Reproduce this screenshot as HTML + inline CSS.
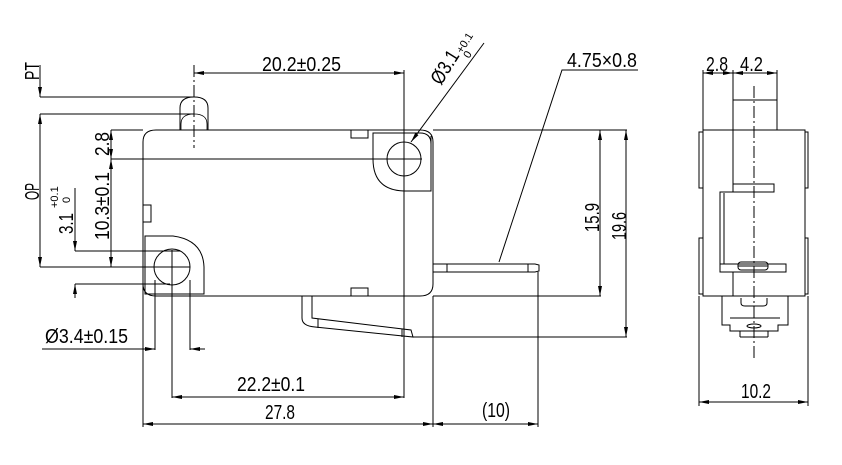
<!DOCTYPE html>
<html><head><meta charset="utf-8"><style>
html,body{margin:0;padding:0;background:#fff}
svg{display:block}
text{font-family:"Liberation Sans",sans-serif;fill:#000}
</style></head><body>
<svg width="842" height="465" viewBox="0 0 842 465" xmlns="http://www.w3.org/2000/svg">
<defs>
<marker id="a" viewBox="0 0 10 4" refX="10" refY="2" markerWidth="10" markerHeight="4" orient="auto-start-reverse" markerUnits="userSpaceOnUse"><path d="M0,0 L10,2 L0,4z" fill="#000"/></marker>
</defs>
<g stroke="#000" stroke-width="1" fill="none">
<path d="M143,296 L143,142 Q143,130 156,130 L420,130 Q433,130 433,142 L433,284 Q433,296 420,296 L156,296 Q143,296 143,284 Z"/>
<path d="M180,130 L180,108 Q180,97 194,97 Q208,97 208,108 L208,130"/>
<path d="M181,130 L181,124 Q181,114 194,114 Q207,114 207,124 L207,130" stroke-width="0.8"/>
<line x1="194" y1="65" x2="194" y2="148" stroke-dasharray="12,3,2,3"/>
<path d="M431,136 L431,191 L404,191 Q373,190 373,159 L373,133 L420,133 Q431,133 431,144"/>
<circle cx="404" cy="159" r="17"/>
<path d="M145,294 L145,236 L173,236 Q203,240 204,267 L204,294 Z"/>
<circle cx="172" cy="267" r="18"/>
<rect x="143" y="205" width="8" height="17"/>
<rect x="351" y="130" width="17" height="8"/>
<rect x="351" y="288" width="17" height="8"/>
<path d="M302,296 L302,318 Q302,326 315,327 L413,337 L411,330 L312,318 L312,296"/>
<line x1="318" y1="319" x2="318" y2="328"/><line x1="402" y1="329" x2="402" y2="337"/>
<path d="M433,264 L535,264 L539,265 L539,271 L535,272 L433,272"/>
<line x1="447" y1="264" x2="447" y2="272"/><line x1="528" y1="264" x2="528" y2="272"/>
<line x1="40" y1="97" x2="194" y2="97"/>
<line x1="40" y1="114" x2="194" y2="114"/>
<line x1="111" y1="159" x2="422" y2="159"/>
<line x1="40" y1="267" x2="190" y2="267"/>
<line x1="75" y1="251" x2="180" y2="251"/>
<line x1="75" y1="284" x2="170" y2="284"/>
<line x1="433" y1="130" x2="627" y2="130"/>
<line x1="433" y1="296" x2="601" y2="296"/>
<line x1="413" y1="337" x2="627" y2="337"/>
<line x1="404" y1="70" x2="404" y2="398"/>
<line x1="143" y1="296" x2="143" y2="427"/>
<line x1="155" y1="280" x2="155" y2="350"/>
<line x1="190" y1="280" x2="190" y2="350"/>
<line x1="172" y1="250" x2="172" y2="398"/>
<line x1="433" y1="296" x2="433" y2="427"/>
<line x1="538" y1="272" x2="538" y2="427"/>
<line x1="194" y1="73" x2="404" y2="73" marker-start="url(#a)" marker-end="url(#a)"/>
<line x1="40" y1="65" x2="40" y2="97" marker-end="url(#a)"/>
<line x1="40" y1="114" x2="40" y2="267" marker-start="url(#a)" marker-end="url(#a)"/>
<line x1="111" y1="130" x2="111" y2="159" marker-start="url(#a)" marker-end="url(#a)"/>
<line x1="111" y1="159" x2="111" y2="267" marker-start="url(#a)" marker-end="url(#a)"/>
<line x1="111" y1="130" x2="143" y2="130"/>
<line x1="75" y1="188" x2="75" y2="251" marker-end="url(#a)"/>
<line x1="75" y1="298" x2="75" y2="284" marker-end="url(#a)"/>
<line x1="600" y1="130" x2="600" y2="296" marker-start="url(#a)" marker-end="url(#a)"/>
<line x1="626" y1="130" x2="626" y2="337" marker-start="url(#a)" marker-end="url(#a)"/>
<line x1="42" y1="349" x2="155" y2="349" marker-end="url(#a)"/>
<line x1="205" y1="349" x2="190" y2="349" marker-end="url(#a)"/>
<line x1="172" y1="397" x2="404" y2="397" marker-start="url(#a)" marker-end="url(#a)"/>
<line x1="143" y1="424" x2="433" y2="424" marker-start="url(#a)" marker-end="url(#a)"/>
<line x1="433" y1="424" x2="538" y2="424" marker-start="url(#a)" marker-end="url(#a)"/>
<line x1="411" y1="142" x2="484" y2="43" marker-start="url(#a)"/>
<polyline points="499,262 562,70 638,70"/>
<rect x="703" y="130" width="102" height="166"/>
<rect x="699" y="132" width="4" height="56"/><rect x="699" y="238" width="4" height="56"/>
<rect x="805" y="132" width="3" height="56"/><rect x="805" y="238" width="3" height="56"/>
<rect x="733" y="100" width="44" height="30"/>
<line x1="733" y1="130" x2="733" y2="184"/>
<rect x="733" y="184" width="41" height="8"/>
<path d="M733,192 L720,192 L720,264"/>
<line x1="724" y1="193" x2="724" y2="264"/>
<rect x="720" y="264" width="66" height="8"/>
<rect x="738" y="262" width="30" height="8" rx="3"/>
<line x1="738" y1="266" x2="768" y2="266"/>
<line x1="733" y1="272" x2="733" y2="296"/>
<path d="M722,296 L722,325 L730,325 L730,331 L778,331 L778,325 L788,325 L788,296"/>
<path d="M741,298 L741,303 Q741,306 745,306 L763,306 Q767,306 767,303 L767,298"/>
<line x1="730" y1="318" x2="780" y2="318"/>
<ellipse cx="754" cy="326" rx="7" ry="2"/>
<line x1="740" y1="331" x2="740" y2="337"/><line x1="768" y1="331" x2="768" y2="337"/>
<line x1="740" y1="337" x2="768" y2="337"/>
<line x1="754" y1="86" x2="754" y2="360" stroke-dasharray="12,3,2,3"/>
<line x1="703" y1="70" x2="703" y2="130"/><line x1="733" y1="70" x2="733" y2="100"/><line x1="777" y1="70" x2="777" y2="100"/>
<line x1="703" y1="73" x2="733" y2="73" marker-start="url(#a)" marker-end="url(#a)"/>
<line x1="733" y1="73" x2="777" y2="73" marker-start="url(#a)" marker-end="url(#a)"/>
<line x1="699" y1="296" x2="699" y2="406"/><line x1="808" y1="296" x2="808" y2="406"/>
<line x1="699" y1="402" x2="808" y2="402" marker-start="url(#a)" marker-end="url(#a)"/>
</g>
<g font-size="20">
<text x="262" y="71" textLength="79" lengthAdjust="spacingAndGlyphs">20.2±0.25</text>
<text x="567" y="67" textLength="70" lengthAdjust="spacingAndGlyphs">4.75×0.8</text>
<text x="482" y="417" textLength="28" lengthAdjust="spacingAndGlyphs">(10)</text>
<text x="237" y="391" textLength="68" lengthAdjust="spacingAndGlyphs">22.2±0.1</text>
<text x="265" y="419" textLength="30" lengthAdjust="spacingAndGlyphs">27.8</text>
<text x="45" y="343" textLength="83" lengthAdjust="spacingAndGlyphs">Ø3.4±0.15</text>
<text x="741" y="398" textLength="30" lengthAdjust="spacingAndGlyphs">10.2</text>
<text x="706" y="71" textLength="22" lengthAdjust="spacingAndGlyphs">2.8</text>
<text x="740" y="71" textLength="23" lengthAdjust="spacingAndGlyphs">4.2</text>
<text transform="translate(599,232) rotate(-90)" textLength="29" lengthAdjust="spacingAndGlyphs">15.9</text>
<text transform="translate(626,240) rotate(-90)" textLength="28" lengthAdjust="spacingAndGlyphs">19.6</text>
<text transform="translate(109,156) rotate(-90)" textLength="24" lengthAdjust="spacingAndGlyphs">2.8</text>
<text transform="translate(109,240) rotate(-90)" textLength="68" lengthAdjust="spacingAndGlyphs">10.3±0.1</text>
<text transform="translate(39,80) rotate(-90)" textLength="18" lengthAdjust="spacingAndGlyphs">PT</text>
<text transform="translate(39,200) rotate(-90)" textLength="17" lengthAdjust="spacingAndGlyphs">OP</text>
<text transform="translate(73,234) rotate(-90)" textLength="21" lengthAdjust="spacingAndGlyphs">3.1</text>
<text transform="translate(441,86) rotate(-58)" textLength="36" lengthAdjust="spacingAndGlyphs">Ø3.1</text>
</g>
<g font-size="11">
<text transform="translate(58,208) rotate(-90)">+0.1</text>
<text transform="translate(70,203) rotate(-90)">0</text>
<text transform="translate(462,54) rotate(-58)">+0.1</text>
<text transform="translate(469,59) rotate(-58)">0</text>
</g>
</svg>
</body></html>
